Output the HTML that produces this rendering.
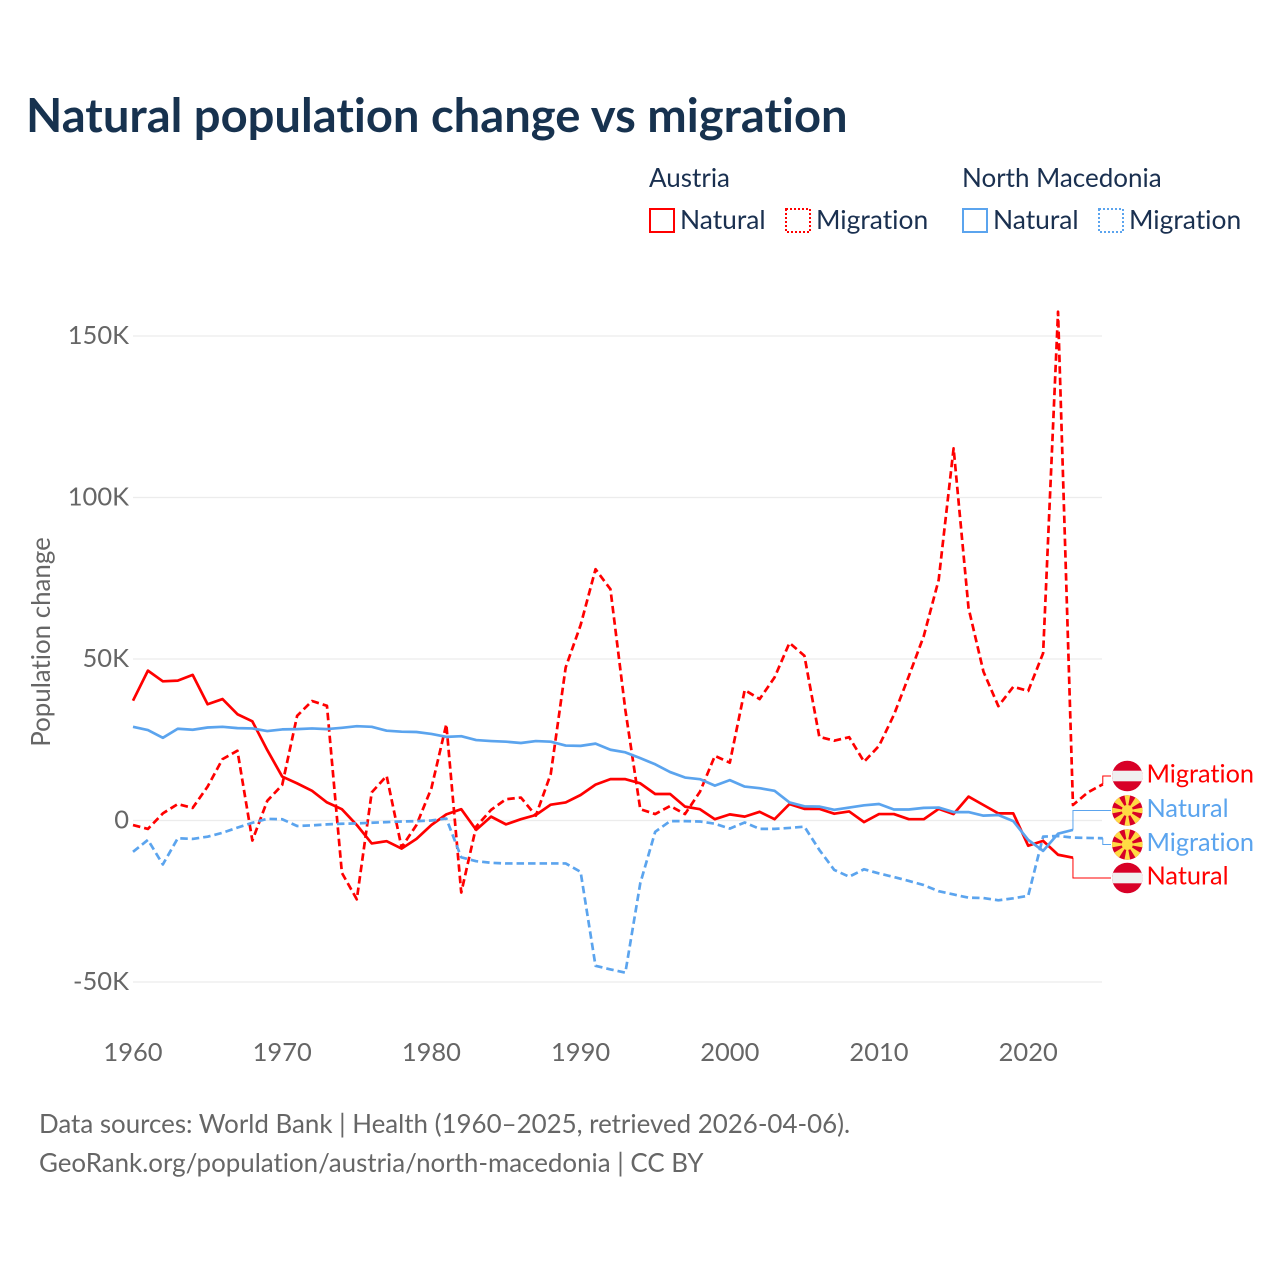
<!DOCTYPE html>
<html lang="en">
<head>
<meta charset="utf-8">
<title>Natural population change vs migration</title>
<style>
html,body{margin:0;padding:0;background:#fff;}
svg{display:block;font-family:"Lato","Carlito","Liberation Sans",sans-serif;font-variant-ligatures:none;}
.tick{font-size:25.5px;fill:#666;}
.leg{font-size:26px;fill:#1a3050;}
.leg-item{font-size:26.4px;fill:#1a3050;}
.foot{font-size:25.9px;fill:#666;}
.end{font-size:25.3px;}
</style>
</head>
<body>
<svg id="chart" xmlns="http://www.w3.org/2000/svg" width="1280" height="1280" viewBox="0 0 1280 1280">
  <defs>
    <clipPath id="flag-clip"><circle cx="0" cy="0" r="15.3"></circle></clipPath>
    <g id="flag-at" clip-path="url(#flag-clip)">
      <rect x="-16" y="-16" width="32" height="32" fill="#d80027"></rect>
      <rect x="-16" y="-5.3" width="32" height="10.6" fill="#f0f0f0"></rect>
    </g>
    <g id="flag-mk" clip-path="url(#flag-clip)">
      <rect x="-16" y="-16" width="32" height="32" fill="#d80027"></rect>
      <g fill="#ffda44">
        <polygon points="-3,-16 3,-16 0,0"></polygon>
        <polygon points="-3,16 3,16 0,0"></polygon>
        <polygon points="-16,-3 -16,3 0,0"></polygon>
        <polygon points="16,-3 16,3 0,0"></polygon>
        <polygon points="-13.5,-8.5 -8.5,-13.5 0,0"></polygon>
        <polygon points="13.5,-8.5 8.5,-13.5 0,0"></polygon>
        <polygon points="-13.5,8.5 -8.5,13.5 0,0"></polygon>
        <polygon points="13.5,8.5 8.5,13.5 0,0"></polygon>
        <circle cx="0" cy="0" r="5.5"></circle>
      </g>
    </g>
  </defs>

  <text x="26" y="132" font-size="47.15" font-weight="700" fill="#17324f">Natural population change vs migration</text>

  <g>
    <text class="leg" x="649" y="187">Austria</text>
    <text class="leg" x="962" y="187">North Macedonia</text>
    <rect x="650" y="209" width="24" height="23" fill="none" stroke="#ff0000" stroke-width="2"></rect>
    <text class="leg-item" x="680" y="229">Natural</text>
    <rect x="786" y="209" width="24" height="23" fill="none" stroke="#ff0000" stroke-width="2" stroke-dasharray="2 2"></rect>
    <text class="leg-item" x="816" y="229">Migration</text>
    <rect x="963" y="209" width="24" height="23" fill="none" stroke="#5ba4ee" stroke-width="2"></rect>
    <text class="leg-item" x="993" y="229">Natural</text>
    <rect x="1099" y="209" width="24" height="23" fill="none" stroke="#5ba4ee" stroke-width="2" stroke-dasharray="2 2"></rect>
    <text class="leg-item" x="1129" y="229">Migration</text>
  </g>

  <text class="tick" style="font-size:25.9px" text-anchor="middle" transform="translate(50,642) rotate(-90)">Population change</text>

  <g id="grid"></g>
  <g id="yticks"></g>
  <g id="xticks"></g>
  <g id="series"></g>
  <g id="ends"></g>

  <text class="foot" x="39" y="1133">Data sources: World Bank | Health (1960–2025, retrieved 2026-04-06).</text>
  <text class="foot" x="39" y="1172">GeoRank.org/population/austria/north-macedonia | CC BY</text>
</svg>
<script>
const startYear = 1960;
const xTickYears = [1960, 1970, 1980, 1990, 2000, 2010, 2020];
const yTickValues = [-50, 0, 50, 100, 150];
const yTickLabels = ['-50K', '0', '50K', '100K', '150K'];

const austriaNatural = [37.1,46.4,43.1,43.3,45.1,36.0,37.6,32.9,30.7,21.8,13.6,11.5,9.2,5.6,3.5,-1.4,-7.1,-6.4,-8.7,-5.7,-1.4,1.9,3.5,-2.9,1.2,-1.2,0.4,1.7,4.9,5.6,7.9,11.1,12.8,12.8,11.5,8.2,8.2,4.3,3.5,0.4,1.9,1.2,2.7,0.4,5.1,3.6,3.6,2.1,2.8,-0.5,2.0,2.0,0.4,0.4,3.6,2.0,7.4,4.8,2.2,2.2,-7.8,-6.3,-10.6,-11.5];
const austriaMigration = [-1.4,-2.6,2.2,5.1,3.9,10.5,19.0,21.6,-6.2,6.1,11.0,32.4,37.0,35.5,-16.2,-24.4,8.7,13.8,-8.3,-1.4,10.0,29.8,-22.3,-1.9,3.3,6.6,7.1,1.5,14.4,47.4,60.5,77.8,71.6,34.2,3.5,2.0,4.5,2.0,8.9,20.0,17.9,40.4,37.6,44.3,55.0,51.0,25.9,24.7,25.8,18.2,23.1,32.7,44.7,57.1,74.5,115.2,65.8,46.1,35.4,41.4,40.1,51.8,157.5,4.8,8.7,11.2];
const macedoniaNatural = [29.0,28.0,25.6,28.4,28.1,28.8,29.0,28.6,28.5,27.7,28.2,28.3,28.5,28.3,28.7,29.2,29.0,27.8,27.5,27.4,26.8,25.9,26.1,24.9,24.6,24.4,24.0,24.6,24.4,23.2,23.1,23.8,21.9,21.1,19.3,17.4,15.0,13.3,12.8,10.8,12.5,10.5,10.0,9.2,5.6,4.4,4.3,3.3,4.0,4.7,5.1,3.4,3.4,3.9,4.0,2.6,2.6,1.5,1.7,-0.2,-6.0,-9.4,-4.1,-2.9];
const macedoniaMigration = [-9.7,-6.0,-13.6,-5.5,-5.7,-5.0,-3.8,-2.2,-0.7,0.5,0.4,-1.7,-1.5,-1.2,-1.0,-0.9,-0.7,-0.5,-0.3,-0.2,0.0,0.6,-11.4,-12.6,-13.1,-13.3,-13.3,-13.3,-13.3,-13.3,-15.9,-45.0,-46.1,-47.1,-19.4,-3.5,-0.2,-0.2,-0.3,-1.0,-2.5,-0.6,-2.6,-2.6,-2.3,-1.9,-9.1,-15.3,-17.4,-15.1,-16.4,-17.5,-18.7,-20.0,-21.9,-22.9,-23.9,-24.0,-24.7,-24.1,-23.3,-5.0,-4.8,-5.3,-5.4,-5.5];

const SVG_NS = 'http://www.w3.org/2000/svg';
const xScale = function (year) { return 133 + (year - 1960) * 14.92; };
const yScale = function (v) { return 820.5 - v * 3.23; };
const RED = '#ff0000';
const BLUE = '#5ba4ee';

function make(tag, parent) {
  const el = document.createElementNS(SVG_NS, tag);
  parent.appendChild(el);
  return el;
}

const gridG = document.getElementById('grid');
const yTickG = document.getElementById('yticks');
yTickValues.forEach(function (v, i) {
  const line = make('line', gridG);
  
  
  line.setAttribute('x1', 133);
  line.setAttribute('x2', 1102);
  line.setAttribute('y1', yScale(v));
  line.setAttribute('y2', yScale(v));
  line.setAttribute('stroke', '#ececec');
  line.setAttribute('stroke-width', 1.2);
  const t = make('text', yTickG);
  
  
  t.setAttribute('class', 'tick');
  t.setAttribute('x', 129);
  t.setAttribute('y', yScale(v) + 8);
  t.setAttribute('text-anchor', 'end');
  t.textContent = yTickLabels[i];
});

const xTickG = document.getElementById('xticks');
xTickYears.forEach(function (year) {
  const t = make('text', xTickG);
  
  
  t.setAttribute('class', 'tick');
  t.setAttribute('x', xScale(year));
  t.setAttribute('y', 1061);
  t.setAttribute('text-anchor', 'middle');
  t.textContent = String(year);
});

function pathFor(values) {
  return values.map(function (v, i) {
    return (i ? 'L' : 'M') + xScale(startYear + i).toFixed(2) + ' ' + yScale(v).toFixed(2);
  }).join(' ');
}

const seriesG = document.getElementById('series');
function drawSeries(values, color, dashed, name) {
  const p = make('path', seriesG);
  
  
  p.setAttribute('d', pathFor(values));
  p.setAttribute('fill', 'none');
  p.setAttribute('stroke', color);
  p.setAttribute('stroke-width', 2.7);
  p.setAttribute('stroke-linejoin', 'round');
  if (dashed) p.setAttribute('stroke-dasharray', '7.5 4');
}
drawSeries(austriaNatural, RED, false, 'line-austria-natural');
drawSeries(austriaMigration, RED, true, 'line-austria-migration');
drawSeries(macedoniaNatural, BLUE, false, 'line-north-macedonia-natural');
drawSeries(macedoniaMigration, BLUE, true, 'line-north-macedonia-migration');

const endsG = document.getElementById('ends');
function drawEnd(values, color, slotY, flag, label, name) {
  const lastX = xScale(startYear + values.length - 1);
  const lastY = yScale(values[values.length - 1]);
  const c = make('path', endsG);
  
  
  c.setAttribute('d', 'M' + lastX + ' ' + lastY + ' V' + slotY + ' H1111');
  c.setAttribute('fill', 'none');
  c.setAttribute('stroke', color);
  c.setAttribute('stroke-width', 1);
  const u = make('use', endsG);
  
  
  u.setAttribute('href', '#' + flag);
  u.setAttribute('transform', 'translate(1127.3,' + slotY + ')');
  const t = make('text', endsG);
  
  
  t.setAttribute('class', 'end');
  t.setAttribute('x', 1146.5);
  t.setAttribute('y', slotY + 6.5);
  t.setAttribute('fill', color);
  t.textContent = label;
}
drawEnd(austriaMigration, RED, 776, 'flag-at', 'Migration', 'end-austria-migration');
drawEnd(macedoniaNatural, BLUE, 810.5, 'flag-mk', 'Natural', 'end-north-macedonia-natural');
drawEnd(macedoniaMigration, BLUE, 844.5, 'flag-mk', 'Migration', 'end-north-macedonia-migration');
drawEnd(austriaNatural, RED, 878, 'flag-at', 'Natural', 'end-austria-natural');
</script>
</body>
</html>
